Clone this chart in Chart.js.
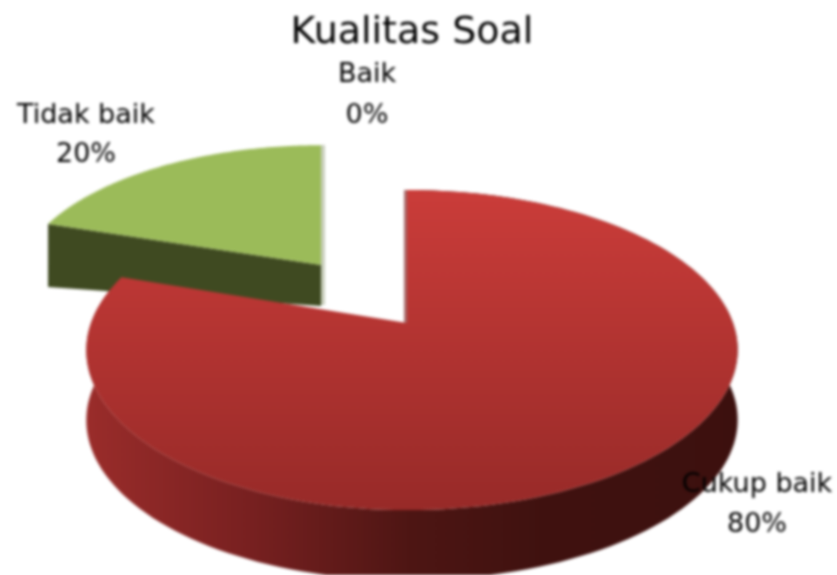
<!DOCTYPE html>
<html><head><meta charset="utf-8">
<style>html,body{margin:0;padding:0;background:#fff;overflow:hidden}
#wrap{width:837px;height:575px}canvas{display:block;filter:blur(1.4px)}</style>
<script src="https://cdn.jsdelivr.net/npm/chart.js@4"></script></head>
<body><div id="wrap"><canvas id="c" width="837" height="575"></canvas></div>
<script>
const chartTitle = 'Kualitas Soal';
const categories = ['Baik', 'Cukup baik', 'Tidak baik'];
const seriesValues = [0, 80, 20];
const sliceColors = ['#4f81bd', '#c0392f', '#9bbb59'];

const P = 0.169;
const views = {
  1: {cx:410, cy:323, apexX:407, rxL:319, rxR:323, ry:155.5, d0:70, d1:70},
  2: {cx:321, cy:265, apexX:321, rxL:302, rxR:302, ry:140, d0:41, d1:63}
};
function proj(v, a, r) {
  const th = a + Math.PI/2, u = Math.sin(th)*r, t = Math.cos(th)*r, w = 1 + P*t;
  const rx = u < 0 ? v.rxL : v.rxR;
  return [v.cx + (v.apexX - v.cx)*(1-Math.abs(u)) + rx*u/w, v.cy - v.ry*t/w];
}
function rim(v, s, e) { const n = 160, out = []; for (let i=0;i<=n;i++) out.push(proj(v, s+(e-s)*i/n, 1)); return out; }
function topPath(ctx, v, s, e) {
  ctx.beginPath(); ctx.moveTo(v.apexX, v.cy);
  rim(v,s,e).forEach(p=>ctx.lineTo(p[0],p[1])); ctx.closePath();
}
function sidePath(ctx, pts, d) {
  ctx.beginPath(); pts.forEach((p,i)=> i?ctx.lineTo(p[0],p[1]):ctx.moveTo(p[0],p[1]));
  for (let i=pts.length-1;i>=0;i--) ctx.lineTo(pts[i][0],pts[i][1]+d);
  ctx.closePath();
}
const pie3d = {
  id:'pie3d',
  beforeDatasetDraw(chart){
    const ctx = chart.ctx, arcs = chart.getDatasetMeta(0).data;
    ctx.save();
    // green slice
    const g = arcs[2], gv = views[2], gp = rim(gv, g.startAngle, g.endAngle);
    const base = g.options.backgroundColor;
    const L = gp[0];
    ctx.fillStyle = '#3f4a21';
    ctx.beginPath(); ctx.moveTo(L[0],L[1]); ctx.lineTo(gv.apexX,gv.cy); ctx.lineTo(gv.apexX,gv.cy+gv.d0); ctx.lineTo(L[0],L[1]+gv.d1); ctx.closePath(); ctx.fill();
    ctx.fillStyle = '#c9cfbd'; ctx.fillRect(gv.apexX, gv.cy-120, 4, 160);
    ctx.fillStyle = base; topPath(ctx, gv, g.startAngle, g.endAngle); ctx.fill();
    // red slice
    const r = arcs[1], rv = views[1], rp = rim(rv, r.startAngle, r.endAngle);
    const sg = ctx.createLinearGradient(85,0,738,0);
    sg.addColorStop(0,'#9a2c2a'); sg.addColorStop(0.25,'#782020'); sg.addColorStop(0.5,'#4d1513'); sg.addColorStop(0.7,'#3f110f'); sg.addColorStop(1,'#3c100e');
    ctx.fillStyle = sg; sidePath(ctx, rp, rv.d0); ctx.fill();
    ctx.fillStyle = '#a86a6a'; ctx.fillRect(rv.apexX-3, 190, 3, 133);
    const tg = ctx.createLinearGradient(0,190,0,505);
    tg.addColorStop(0,'#ca3c39'); tg.addColorStop(1,'#982a28');
    ctx.fillStyle = tg; topPath(ctx, rv, r.startAngle, r.endAngle); ctx.fill();
    ctx.restore();
    // labels
    const total = seriesValues.reduce((a,b)=>a+b,0), spots = [[367,75,116],[757,485,525],[86,116,155]];
    ctx.save(); ctx.fillStyle='#000'; ctx.font='27px "DejaVu Sans"'; ctx.textAlign='center'; ctx.textBaseline='middle';
    categories.forEach((c,i)=>{ ctx.fillText(c,spots[i][0],spots[i][1]); ctx.fillText(Math.round(seriesValues[i]/total*100)+'%',spots[i][0],spots[i][2]); });
    ctx.restore();
    return false;
  }
};
new Chart(document.getElementById('c'), {
  type:'pie',
  data:{labels:categories, datasets:[{data:seriesValues, backgroundColor:sliceColors, borderWidth:0}]},
  plugins:[pie3d],
  options:{
    responsive:false, animation:false, rotation:0,
    layout:{padding:{right:13}},
    plugins:{legend:{display:false}, tooltip:{enabled:false},
      title:{display:true, text:chartTitle, color:'#000', font:{family:'"DejaVu Sans"', size:38, weight:'normal'}, padding:{top:10,bottom:10}}}
  }
});
</script></body></html>
